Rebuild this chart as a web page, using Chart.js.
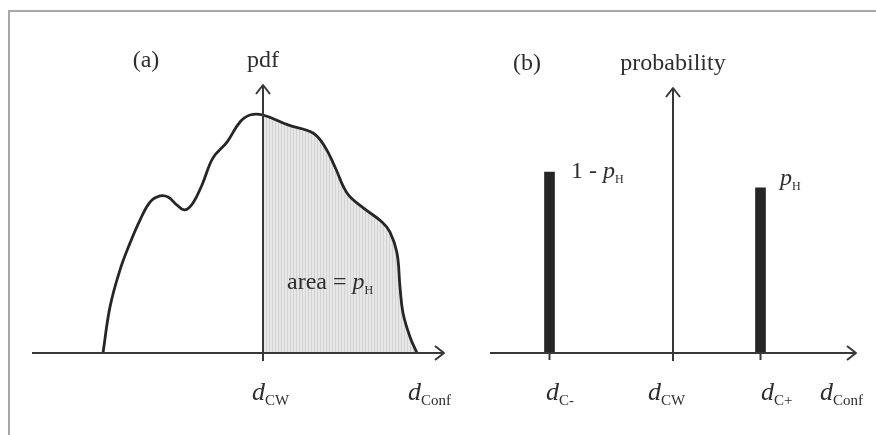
<!DOCTYPE html>
<html>
<head>
<meta charset="utf-8">
<script src="https://cdn.jsdelivr.net/npm/chart.js@4.4.1/dist/chart.umd.min.js"></script>
<style>
  html, body { margin: 0; padding: 0; background: #fff; }
  #wrap { position: relative; width: 876px; height: 435px; overflow: hidden; }
  #frame { position: absolute; left: 8px; top: 10px; right: -4px; bottom: -4px; border-top: 2px solid #a8a8a8; border-left: 2px solid #a8a8a8; }
  canvas { position: absolute; top: 0; }
  #pdf-chart { left: 0; }
  #prob-chart { left: 450px; }
</style>
</head>
<body>
<div id="wrap">
  <div id="frame"></div>
  <canvas id="pdf-chart" width="470" height="435"></canvas>
  <canvas id="prob-chart" width="426" height="435"></canvas>
</div>
<script>
// panel (a): pdf curve, d_CW at x = 0
const pdfX = [-16.0, -15.3, -14.3, -13.3, -12.3, -11.3, -10.3, -9.5, -8.6, -7.8, -7.0, -6.1, -5.0, -3.6, -2.3, -1.3,
              0, 2.5, 5.0, 6.2, 7.2, 8.4, 9.9, 11.9, 12.7, 13.4, 13.7, 14.0, 14.7, 15.4];
const pdfY = [0, 0.172, 0.310, 0.410, 0.496, 0.563, 0.586, 0.582, 0.552, 0.534, 0.560, 0.627, 0.728, 0.787, 0.862, 0.888,
              0.888, 0.851, 0.821, 0.769, 0.694, 0.597, 0.545, 0.489, 0.451, 0.373, 0.246, 0.149, 0.060, 0];
const pdfTickSubs = ['CW', 'Conf'];
const pdfTickPos = [-1.1, 14.5];       // left edge of each axis label
const pdfNote = ['area = ', 'p', 'H'];
const pdfNotePos = [2.4, 0.239];

// panel (b): two probability bars
const probX = [-12.35, 8.75];
const probY = [0.683, 0.623];
const probTicks = [-12.35, 0, 8.75];
const probTickSubs = ['C-', 'CW', 'C+', 'Conf'];
const probTickPos = [-12.7, -2.5, 8.8, 14.7];
const probNotes = [['1 - ', 'p', 'H'], ['', 'p', 'H']];
const probNoteX = [-10.2, 10.7];
const probNoteY = [0.660, 0.634];

const INK = '#262626';
const TEXT = '#2e2e2e';
const SERIF = '"Liberation Serif", "DejaVu Serif", serif';

function hatch() {
    const c = document.createElement('canvas');
    c.width = 3; c.height = 4;
    const g = c.getContext('2d');
    g.fillStyle = '#e7e7e7';
    g.fillRect(0, 0, 3, 4);
    g.fillStyle = '#d3d3d3';
    g.fillRect(2, 0, 1, 4);
    return g.createPattern(c, 'repeat');
}

// plain text, italic letter, subscript
function drawTriple(ctx, x, y, parts, italicSize, subSize) {
    let cx = x;
    ctx.fillStyle = TEXT;
    ctx.textAlign = 'left';
    ctx.textBaseline = 'alphabetic';
    if (parts[0]) {
        ctx.font = `24px ${SERIF}`;
        ctx.fillText(parts[0], cx, y);
        cx += ctx.measureText(parts[0]).width;
    }
    ctx.font = `italic ${italicSize}px ${SERIF}`;
    ctx.fillText(parts[1], cx, y);
    cx += ctx.measureText(parts[1]).width;
    ctx.font = `${subSize}px ${SERIF}`;
    ctx.fillText(parts[2], cx, y + 5);
}

function drawAxes(chart, ticks) {
    const { ctx, chartArea: area, scales: { x, y } } = chart;
    const y0 = y.getPixelForValue(0);
    const x0 = x.getPixelForValue(0);
    ctx.save();
    ctx.strokeStyle = '#383838';
    ctx.lineWidth = 2;
    ctx.lineJoin = 'round';
    ctx.beginPath();
    ctx.moveTo(area.left, y0);
    ctx.lineTo(area.right, y0);
    ctx.moveTo(area.right - 9, y0 - 7);
    ctx.lineTo(area.right, y0);
    ctx.lineTo(area.right - 9, y0 + 7);
    ctx.moveTo(x0, y0 + 8);
    ctx.lineTo(x0, area.top);
    ctx.moveTo(x0 - 7, area.top + 9);
    ctx.lineTo(x0, area.top);
    ctx.lineTo(x0 + 7, area.top + 9);
    ticks.forEach(v => {
        const px = x.getPixelForValue(v);
        ctx.moveTo(px, y0);
        ctx.lineTo(px, y0 + 7);
    });
    ctx.stroke();
    ctx.restore();
}

function drawTitles(chart, tag, tagX, title, baseline) {
    const { ctx, scales: { x } } = chart;
    ctx.save();
    ctx.fillStyle = TEXT;
    ctx.font = `24px ${SERIF}`;
    ctx.textAlign = 'center';
    ctx.fillText(tag, tagX, baseline);
    ctx.fillText(title, x.getPixelForValue(0), baseline);
    ctx.restore();
}

function drawTickLabels(chart, subs, pos) {
    const { ctx, scales: { x, y } } = chart;
    const base = y.getPixelForValue(0) + 47;
    ctx.save();
    subs.forEach((s, i) => drawTriple(ctx, x.getPixelForValue(pos[i]), base, ['', 'd', s], 26, 15));
    ctx.restore();
}

const baseOptions = (padding, xMin, xMax) => ({
    responsive: false,
    animation: false,
    events: [],
    layout: { padding },
    scales: {
        x: { type: 'linear', min: xMin, max: xMax, offset: false, display: false },
        y: { type: 'linear', min: 0, max: 1, display: false }
    },
    plugins: { legend: { display: false }, tooltip: { enabled: false } }
});

const pdfPoints = pdfX.map((x, i) => ({ x, y: pdfY[i] }));
const shadedPoints = pdfPoints.filter(p => p.x >= 0);

new Chart(document.getElementById('pdf-chart'), {
    type: 'line',
    data: {
        datasets: [
            { data: pdfPoints, borderColor: INK, borderWidth: 2.8, pointRadius: 0, fill: false,
              tension: 0.4, order: 0 },
            { data: shadedPoints, borderWidth: 0, borderColor: 'rgba(0,0,0,0)', backgroundColor: hatch(),
              pointRadius: 0, fill: 'origin', tension: 0.4, order: 1 }
        ]
    },
    options: baseOptions({ left: 32, right: 26, top: 85, bottom: 82 }, -23.1, 18.1),
    plugins: [{
        id: 'pdfDecor',
        afterDatasetsDraw(chart) { drawAxes(chart, []); },
        afterDraw(chart) {
            const { ctx, scales: { x, y } } = chart;
            drawTitles(chart, '(a)', 146, 'pdf', 67);
            drawTickLabels(chart, pdfTickSubs, pdfTickPos);
            ctx.save();
            drawTriple(ctx, x.getPixelForValue(pdfNotePos[0]), y.getPixelForValue(pdfNotePos[1]), pdfNote, 24, 12);
            ctx.restore();
        }
    }]
});

new Chart(document.getElementById('prob-chart'), {
    type: 'bar',
    data: {
        datasets: [{
            data: probX.map((x, i) => ({ x, y: probY[i] })),
            backgroundColor: INK,
            borderWidth: 0,
            barThickness: 10
        }]
    },
    options: baseOptions({ left: 40, right: 20, top: 88, bottom: 82 }, -18.3, 18.3),
    plugins: [{
        id: 'probDecor',
        afterDatasetsDraw(chart) { drawAxes(chart, probTicks); },
        afterDraw(chart) {
            const { ctx, scales: { x, y } } = chart;
            drawTitles(chart, '(b)', 77, 'probability', 70);
            drawTickLabels(chart, probTickSubs, probTickPos);
            ctx.save();
            probNotes.forEach((n, i) =>
                drawTriple(ctx, x.getPixelForValue(probNoteX[i]), y.getPixelForValue(probNoteY[i]), n, 24, 12));
            ctx.restore();
        }
    }]
});
</script>
</body>
</html>
